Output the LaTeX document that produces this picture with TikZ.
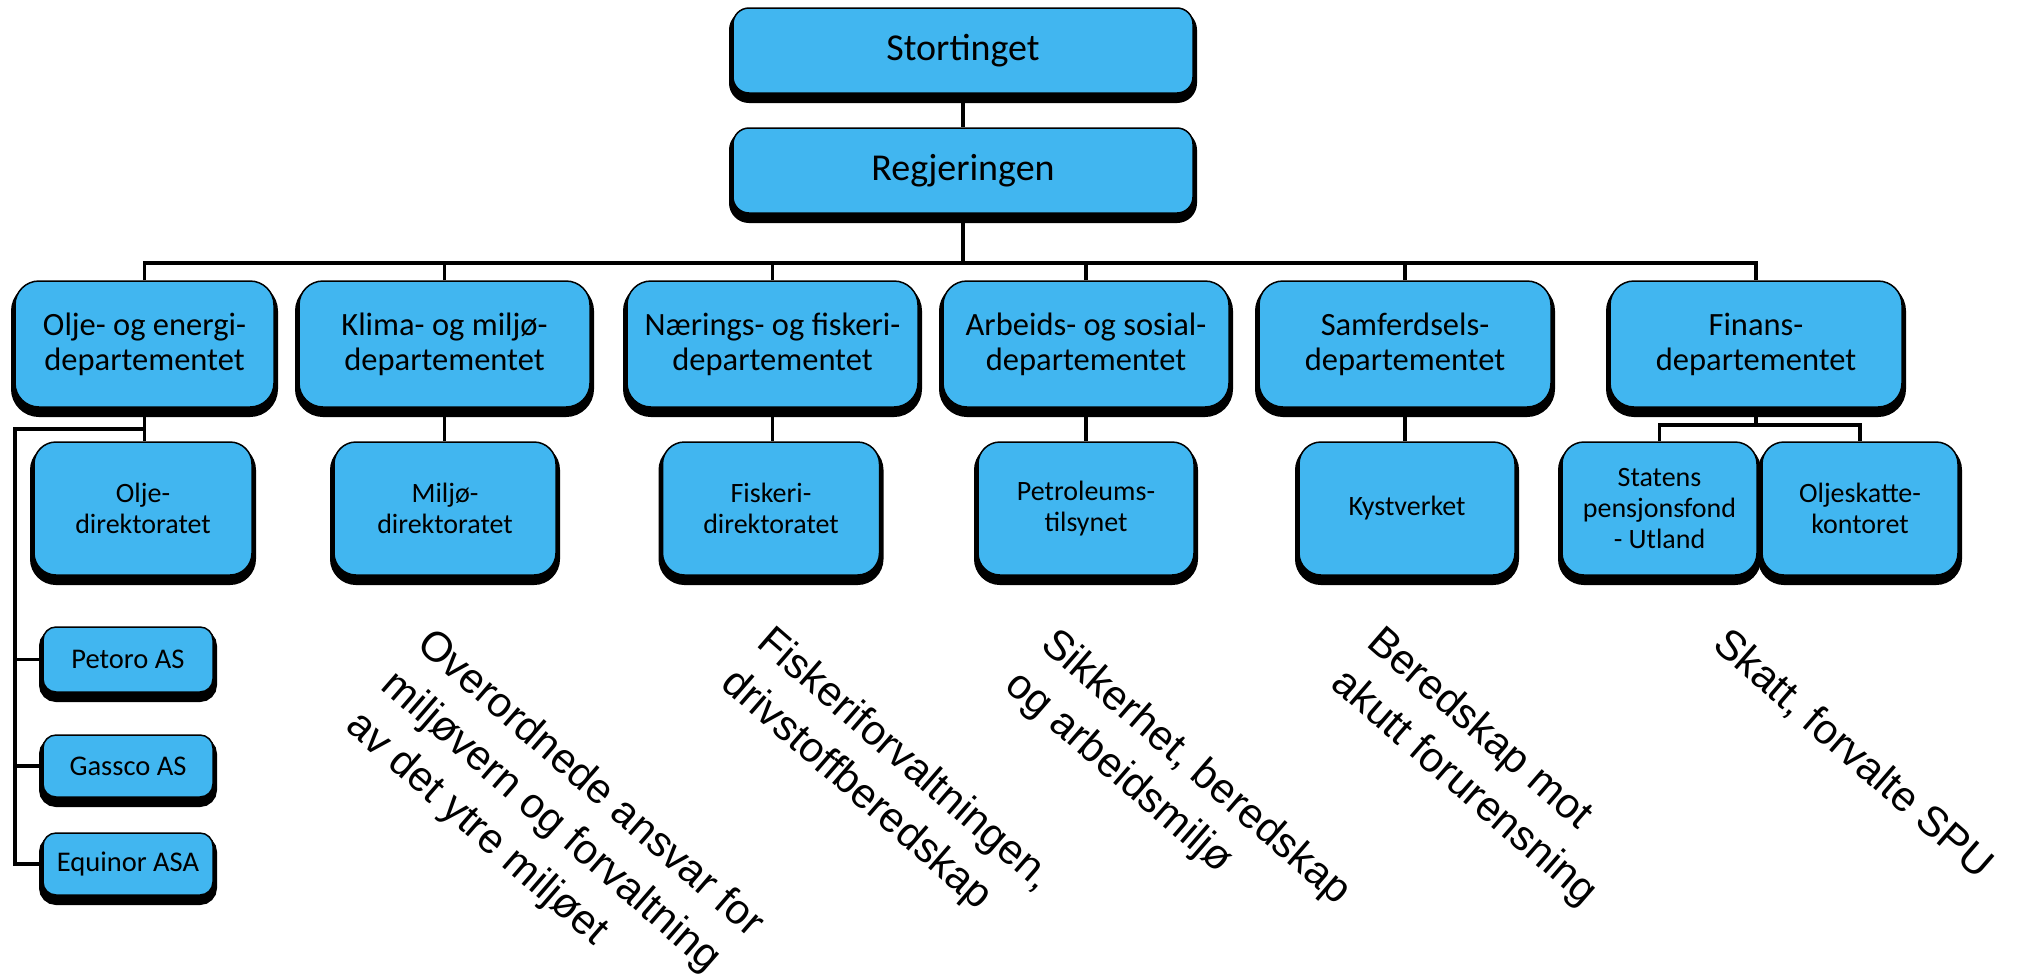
\documentclass[tikz,border=0pt]{standalone}
\usepackage{fontspec}
\setmainfont{Carlito}
\newfontfamily\arialf{Liberation Sans}
\definecolor{boxblue}{RGB}{65,182,240}
\begin{document}
\begin{tikzpicture}[x=1pt,y=-1pt,
  orgbox/.style={draw=black, line width=1.5pt, fill=boxblue, inner sep=0pt, align=center,
     preaction={draw=black, fill=black, line width=8pt, transform canvas={yshift=-6pt}}},
  topbox/.style={orgbox, rounded corners=16pt, minimum width=460pt, minimum height=85pt, font=\fontsize{38}{44}\selectfont},
  depbox/.style={orgbox, rounded corners=24pt, minimum height=126pt, font=\fontsize{32.5}{35}\selectfont},
  dirbox/.style={orgbox, rounded corners=22pt, minimum height=133pt, font=\fontsize{28}{31}\selectfont},
  cobox/.style={orgbox, rounded corners=13pt, minimum width=170pt, font=\fontsize{28.5}{31}\selectfont},
  note/.style={rotate=-41, anchor=north west, inner sep=0pt, align=left, font=\arialf\fontsize{42}{54}\selectfont},
  conn/.style={line width=3.5pt, line join=miter}]
\fill[white] (0,0) rectangle (2018,975);
\useasboundingbox (0,0) rectangle (2018,975);

% top
\node[topbox] (st) at (963,50.5) {Stortinget};
\node[topbox] (rg) at (963,170.5) {Regjeringen};

% departments
\node[depbox, minimum width=259pt] (d1) at (144.5,344) {Olje- og energi-\\departementet};
\node[depbox, minimum width=291pt] (d2) at (444.5,344) {Klima- og miljø-\\departementet};
\node[depbox, minimum width=291pt] (d3) at (772.5,344) {Nærings- og fiskeri-\\departementet};
\node[depbox, minimum width=286pt] (d4) at (1086,344) {Arbeids- og sosial-\\departementet};
\node[depbox, minimum width=292pt] (d5) at (1405,344) {Samferdsels-\\departementet};
\node[depbox, minimum width=292pt] (d6) at (1756,344) {Finans-\\departementet};

% directorates
\node[dirbox, minimum width=218pt] (o1) at (143,508.5) {Olje-\\direktoratet};
\node[dirbox, minimum width=222pt] (o2) at (445,508.5) {Miljø-\\direktoratet};
\node[dirbox, minimum width=217pt] (o3) at (771,508.5) {Fiskeri-\\direktoratet};
\node[dirbox, minimum width=216pt] (o4) at (1086,508.5) {Petroleums-\\tilsynet};
\node[dirbox, minimum width=216pt] (o5) at (1407,508.5) {Kystverket};
\node[dirbox, minimum width=195pt] (o6a) at (1659.5,508.5) {Statens\\pensjonsfond\\- Utland};
\node[dirbox, minimum width=196pt] (o6b) at (1860,508.5) {Oljeskatte-\\kontoret};

% companies
\node[cobox, minimum height=65pt] (c1) at (128,659.5) {Petoro AS};
\node[cobox, minimum height=62pt] (c2) at (128,766) {Gassco AS};
\node[cobox, minimum height=62pt] (c3) at (128,864) {Equinor ASA};

% connectors
\coordinate (bl) at (144.5,263);
\coordinate (br) at (1756,263);
\draw[conn] (st.south) -- (rg.north);
\draw[conn] (rg.south) -- (rg.south |- bl);
\draw[conn] (d1.north) -- (d1.north |- bl) -- (d6.north |- bl) -- (d6.north);
\foreach \d in {d2,d3,d4,d5} {\draw[conn] (\d.north) -- (\d.north |- bl);}
\foreach \d/\o in {d1/o1,d2/o2,d3/o3,d4/o4,d5/o5} {\draw[conn] (\d.south) -- (\d.south |- \o.north);}
\coordinate (oj) at (15,429);
\draw[conn] (d1.south |- oj) -- (oj) |- (c3.west);
\draw[conn] (oj |- c1.west) -- (c1.west);
\draw[conn] (oj |- c2.west) -- (c2.west);
\coordinate (fj) at (1756,425);
\draw[conn] (d6.south) -- (fj);
\draw[conn] (o6a.north) |- (fj) -| (o6b.north);

% notes
\node[note] (n1) at (435,624) {Overordnede ansvar for\\miljøvern og forvaltning\\av det ytre miljøet};
\node[note] (n2) at (775,622) {Fiskeriforvaltningen,\\drivstoffberedskap};
\node[note] (n3) at (1059,624) {Sikkerhet, beredskap\\og arbeidsmiljø};
\node[note] (n4) at (1385,622) {Beredskap mot\\akutt forurensning};
\node[note] (n5) at (1731,624) {Skatt, forvalte SPU};
\end{tikzpicture}
\end{document}
